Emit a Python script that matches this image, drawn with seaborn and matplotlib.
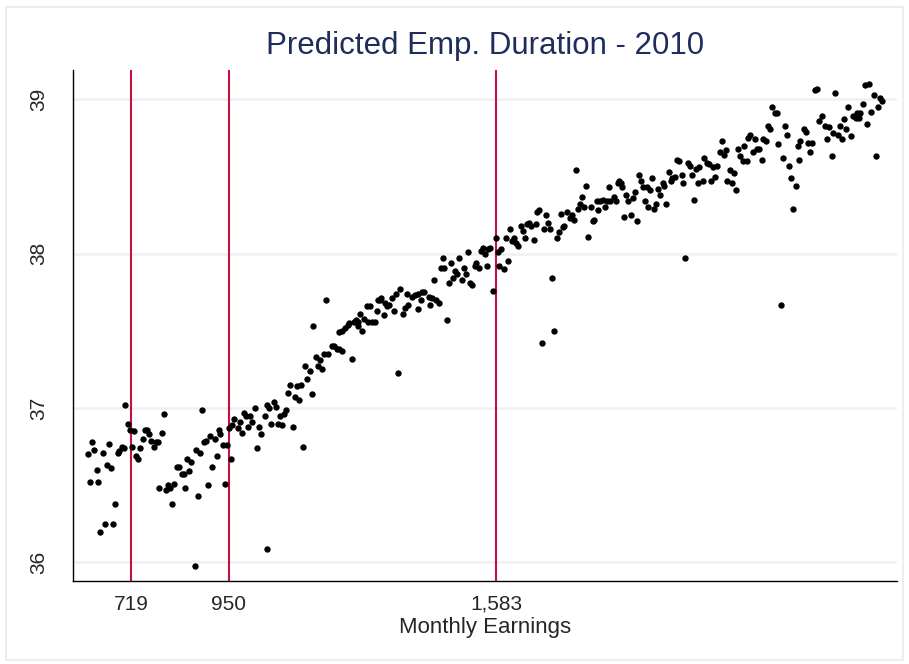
import matplotlib
matplotlib.use('Agg')
import matplotlib.pyplot as plt
import seaborn as sns
import pandas as pd
from matplotlib.patches import Rectangle

# monthly earnings (x) and predicted employment duration (y)
earnings = [
    618, 622, 627, 632, 638, 642, 647, 652, 657, 662,
    667, 672, 676, 682, 688, 691, 698, 702, 706, 713,
    718, 722, 726, 732, 737, 741, 747, 752, 758, 762,
    767, 773, 778, 784, 786, 792, 797, 803, 807, 812,
    817, 822, 828, 833, 839, 844, 847, 852, 857, 862,
    871, 872, 877, 882, 887, 891, 897, 901, 907, 911,
    918, 922, 927, 931, 937, 941, 947, 951, 956, 959,
    963, 972, 977, 982, 986, 992, 996, 1001, 1006, 1012,
    1017, 1022, 1027, 1037, 1041, 1042, 1047, 1051, 1057, 1063,
    1067, 1072, 1076, 1081, 1087, 1091, 1096, 1102, 1107, 1112,
    1117, 1122, 1127, 1132, 1136, 1142, 1147, 1151, 1156, 1162,
    1167, 1172, 1177, 1180, 1186, 1194, 1200, 1206, 1211, 1212,
    1218, 1219, 1226, 1233, 1235, 1242, 1247, 1252, 1256, 1257,
    1262, 1266, 1271, 1277, 1281, 1285, 1289, 1296, 1302, 1304,
    1308, 1312, 1317, 1321, 1325, 1330, 1336, 1342, 1346, 1352,
    1357, 1362, 1368, 1372, 1375, 1385, 1391, 1398, 1399, 1406,
    1407, 1413, 1425, 1427, 1432, 1436, 1441, 1447, 1452, 1457,
    1461, 1466, 1472, 1476, 1482, 1487, 1491, 1496, 1502, 1507,
    1512, 1517, 1521, 1526, 1533, 1535, 1542, 1547, 1553, 1556,
    1562, 1564, 1569, 1577, 1582, 1587, 1590, 1596, 1602, 1607,
    1612, 1617, 1622, 1626, 1630, 1636, 1642, 1646, 1652, 1656,
    1661, 1666, 1672, 1677, 1681, 1685, 1692, 1696, 1701, 1706,
    1711, 1716, 1721, 1727, 1732, 1737, 1741, 1744, 1752, 1758,
    1762, 1768, 1772, 1776, 1782, 1787, 1792, 1797, 1801, 1807,
    1812, 1815, 1821, 1825, 1829, 1837, 1841, 1846, 1851, 1853,
    1862, 1866, 1871, 1874, 1879, 1882, 1887, 1891, 1896, 1903,
    1907, 1912, 1917, 1921, 1926, 1932, 1936, 1940, 1942, 1948,
    1952, 1956, 1962, 1967, 1972, 1978, 1981, 1985, 1992, 1996,
    2000, 2006, 2012, 2016, 2023, 2026, 2031, 2037, 2042, 2046,
    2052, 2056, 2061, 2064, 2072, 2076, 2082, 2087, 2091, 2097,
    2102, 2106, 2112, 2117, 2123, 2127, 2130, 2137, 2142, 2146,
    2151, 2156, 2161, 2167, 2171, 2176, 2180, 2184, 2192, 2196,
    2201, 2206, 2212, 2216, 2221, 2226, 2232, 2237, 2243, 2247,
    2251, 2257, 2262, 2266, 2272, 2277, 2282, 2286, 2292, 2297,
    2301, 2303, 2313, 2317, 2322, 2326, 2332, 2338, 2343, 2347,
    2354, 2362, 2366, 2372, 2377, 2381, 2386, 2392, 2397, 2401,
    2407, 2412, 2417, 2422, 2429, 2435, 2437, 2442, 2445, 2452,
    2456, 2461, 2466, 2471, 2477, 2482, 2486, 2492, 2496,
]
duration = [
    36.70, 36.52, 36.78, 36.73, 36.60, 36.52, 36.20, 36.71, 36.25, 36.63,
    36.77, 36.61, 36.25, 36.38, 36.71, 36.72, 36.75, 36.74, 37.02, 36.90,
    36.86, 36.75, 36.85, 36.69, 36.67, 36.74, 36.80, 36.86, 36.86, 36.83,
    36.79, 36.75, 36.78, 36.78, 36.48, 36.84, 36.96, 36.47, 36.50, 36.48,
    36.38, 36.51, 36.62, 36.62, 36.57, 36.57, 36.48, 36.67, 36.59, 36.65,
    35.98, 36.73, 36.43, 36.71, 36.99, 36.78, 36.79, 36.50, 36.82, 36.62,
    36.80, 36.69, 36.86, 36.83, 36.76, 36.51, 36.76, 36.87, 36.67, 36.89,
    36.93, 36.87, 36.91, 36.84, 36.97, 36.95, 36.88, 36.95, 36.91, 37.00,
    36.74, 36.88, 36.83, 36.95, 36.09, 37.02, 37.00, 36.90, 37.04, 37.01,
    36.90, 36.95, 36.89, 36.96, 36.99, 37.10, 37.15, 36.88, 37.07, 37.14,
    37.05, 37.15, 36.75, 37.27, 37.19, 37.24, 37.09, 37.53, 37.33, 37.27,
    37.31, 37.25, 37.35, 37.70, 37.35, 37.40, 37.40, 37.38, 37.38, 37.49,
    37.37, 37.50, 37.52, 37.54, 37.55, 37.32, 37.56, 37.57, 37.53, 37.56,
    37.61, 37.50, 37.58, 37.66, 37.56, 37.66, 37.56, 37.56, 37.63, 37.70,
    37.70, 37.71, 37.60, 37.68, 37.66, 37.67, 37.71, 37.63, 37.74, 37.23,
    37.77, 37.61, 37.65, 37.74, 37.67, 37.72, 37.73, 37.64, 37.74, 37.70,
    37.75, 37.75, 37.72, 37.67, 37.71, 37.83, 37.70, 37.68, 37.91, 37.97,
    37.91, 37.57, 37.81, 37.94, 37.84, 37.89, 37.87, 37.97, 37.83, 37.91,
    37.87, 38.01, 37.81, 37.80, 37.92, 37.94, 37.91, 38.02, 38.04, 38.00,
    37.92, 38.03, 38.04, 37.76, 38.10, 38.01, 37.92, 38.03, 37.90, 38.10,
    37.95, 38.16, 38.08, 38.10, 38.07, 38.05, 38.18, 38.15, 38.10, 38.19,
    38.20, 38.18, 38.09, 38.19, 38.27, 38.28, 37.42, 38.16, 38.25, 38.20,
    38.16, 37.84, 37.50, 38.10, 38.14, 38.26, 38.17, 38.18, 38.27, 38.23,
    38.25, 38.22, 38.54, 38.29, 38.32, 38.37, 38.30, 38.44, 38.11, 38.30,
    38.21, 38.22, 38.34, 38.28, 38.34, 38.35, 38.30, 38.34, 38.43, 38.34,
    38.37, 38.34, 38.46, 38.47, 38.46, 38.43, 38.24, 38.38, 38.34, 38.25,
    38.36, 38.40, 38.21, 38.51, 38.47, 38.43, 38.34, 38.43, 38.30, 38.41,
    38.49, 38.29, 38.32, 38.42, 38.38, 38.46, 38.44, 38.32, 38.53, 38.47,
    38.49, 38.50, 38.61, 38.60, 38.51, 38.46, 37.97, 38.59, 38.57, 38.51,
    38.35, 38.55, 38.46, 38.56, 38.47, 38.62, 38.59, 38.58, 38.47, 38.56,
    38.50, 38.57, 38.66, 38.73, 38.64, 38.67, 38.47, 38.54, 38.46, 38.52,
    38.41, 38.68, 38.63, 38.60, 38.70, 38.60, 38.75, 38.77, 38.66, 38.74,
    38.68, 38.68, 38.61, 38.74, 38.73, 38.83, 38.81, 38.95, 38.91, 38.91,
    38.71, 37.67, 38.62, 38.83, 38.77, 38.57, 38.49, 38.29, 38.44, 38.70,
    38.61, 38.73, 38.81, 38.79, 38.72, 38.66, 38.72, 39.06, 39.07, 38.86,
    38.89, 38.83, 38.74, 38.82, 38.63, 38.78, 39.04, 38.77, 38.83, 38.74,
    38.87, 38.81, 38.95, 38.76, 38.89, 38.88, 38.91, 38.88, 38.91, 38.97,
    39.09, 38.84, 39.10, 38.92, 39.03, 38.63, 38.95, 39.01, 38.99,
]
cutoffs = [719, 950, 1583]
y_ticks = [36, 37, 38, 39]

df = pd.DataFrame({'earnings': earnings, 'duration': duration})

sns.set_theme(style='white')
plt.rcParams['font.family'] = ['Liberation Sans', 'DejaVu Sans']

fig = plt.figure(figsize=(9.09, 6.64), dpi=100)
ax = fig.add_axes([73 / 909, 1 - 581 / 664, 824 / 909, 511 / 664])

# thin outer frame like the stata graph region
fig.patches.append(Rectangle((6 / 909, 4 / 664), 897 / 909, 653 / 664, transform=fig.transFigure,
                             fill=False, edgecolor='#e4ecee', linewidth=1.2))

for c in cutoffs:
    ax.axvline(c, color='#c8103c', linewidth=1.5, zorder=2)

sns.scatterplot(data=df, x='earnings', y='duration', ax=ax, color='black', s=21,
                linewidth=0, zorder=3)

ax.set_xlim(582, 2532)
ax.set_ylim(35.88, 39.19)
ax.set_xticks(cutoffs)
ax.set_xticklabels([f"{c:,}" for c in cutoffs], fontsize=15)
ax.set_yticks(y_ticks)
ax.set_yticklabels([str(v) for v in y_ticks], fontsize=15, rotation=90, va='center')
ax.tick_params(axis='both', direction='out', length=7, width=1, color='black')
ax.tick_params(axis='x', pad=3)
ax.tick_params(axis='y', pad=11)

ax.yaxis.grid(True, color='#eaf2f3', linewidth=1.8)
ax.xaxis.grid(False)
ax.set_axisbelow(True)

for side in ['top', 'right']:
    ax.spines[side].set_visible(False)
for side in ['left', 'bottom']:
    ax.spines[side].set_color('black')
    ax.spines[side].set_linewidth(1)

ax.set_xlabel('Monthly Earnings', fontsize=16, labelpad=2)
ax.set_ylabel('')
fig.text(485 / 909, 1 - 46 / 664, 'Predicted Emp. Duration - 2010', fontsize=22.5,
         color='#1e2d5c', ha='center', va='center')

fig.savefig('out.png', dpi=100)
plt.close(fig)
